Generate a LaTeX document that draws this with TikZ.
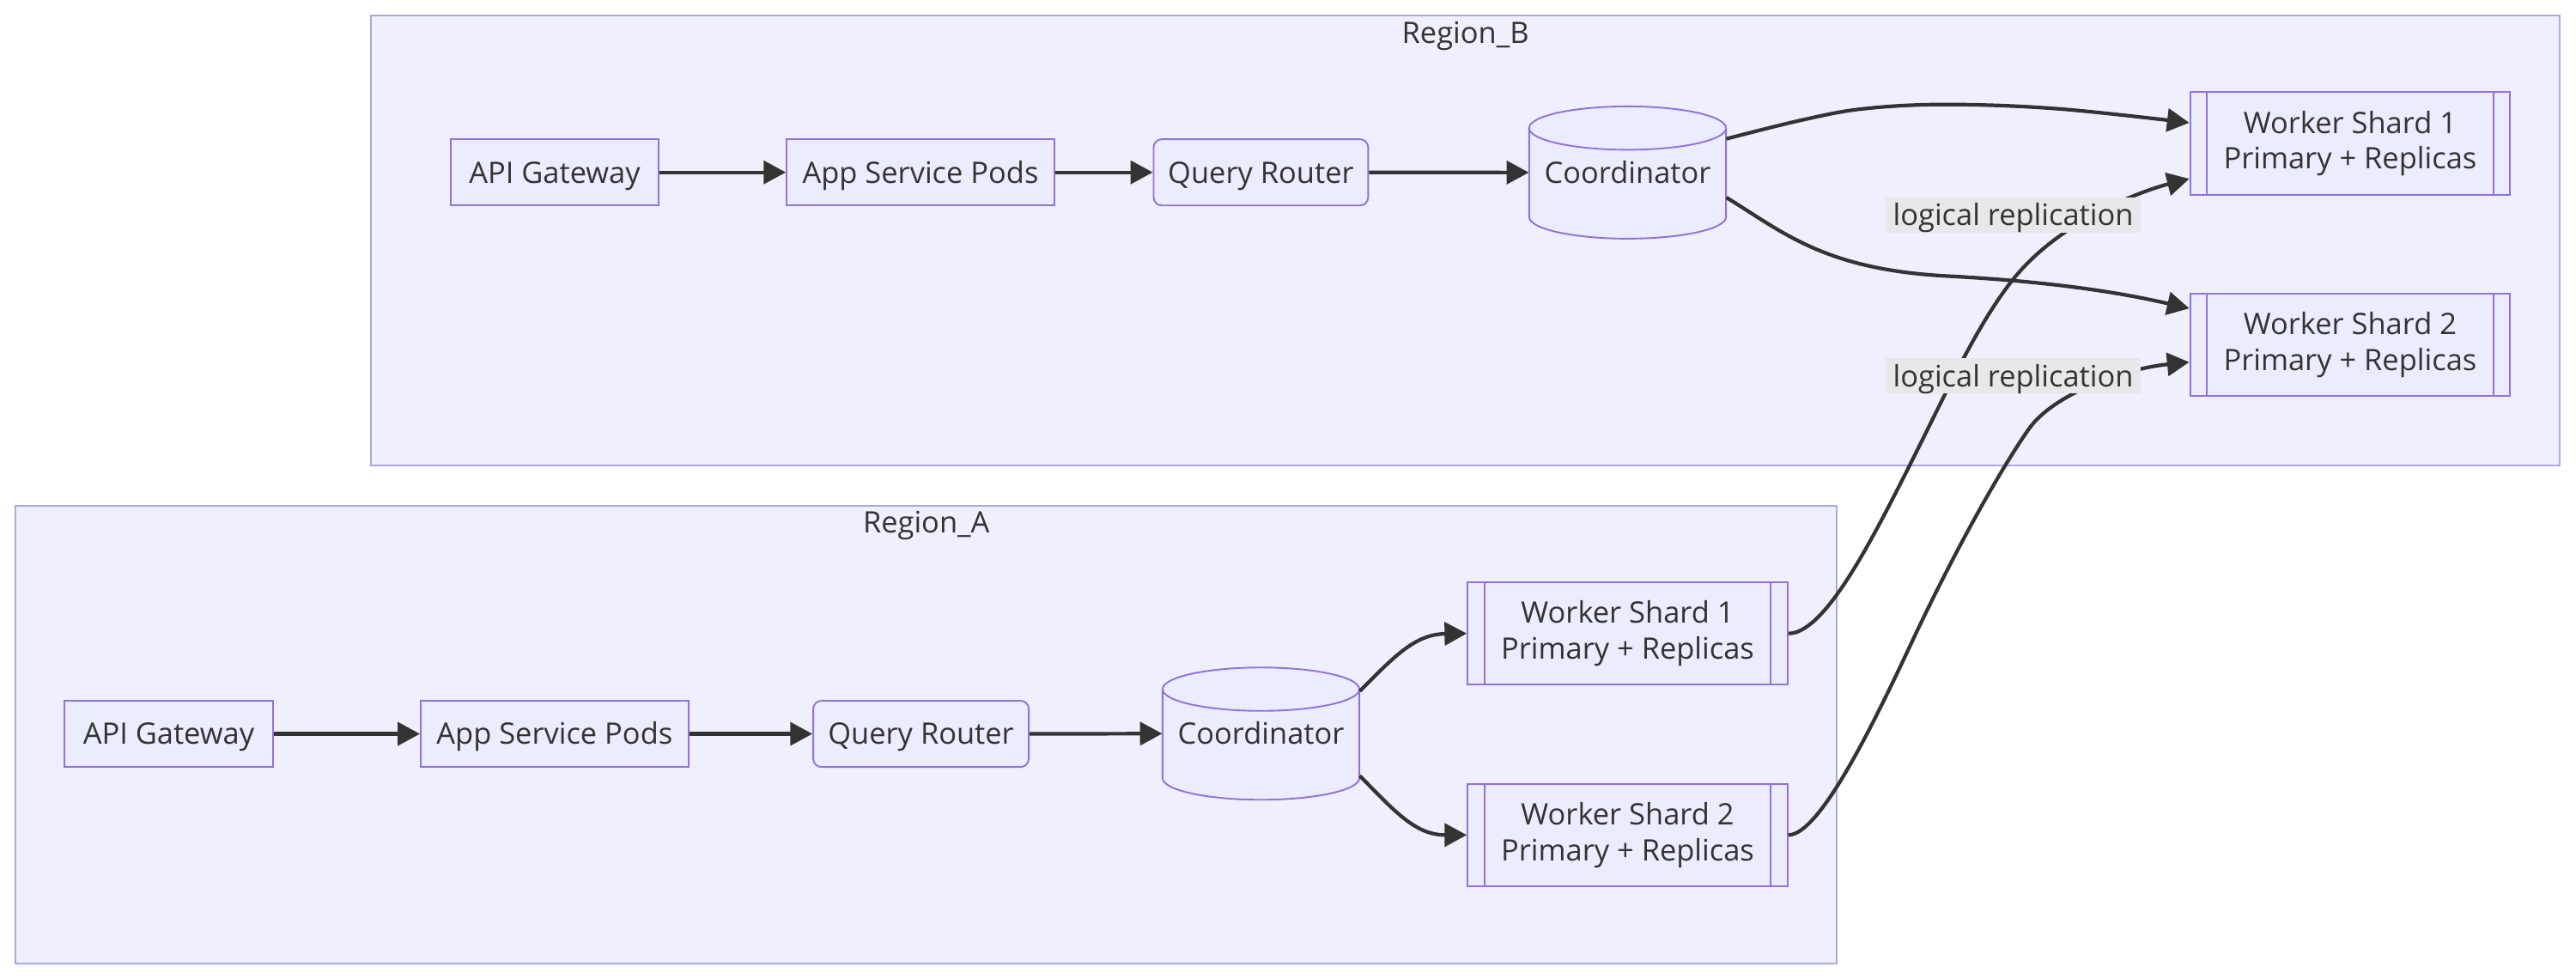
\documentclass[tikz,border=0pt]{standalone}
\usepackage{fontspec}
\setmainfont{Open Sans}
\usetikzlibrary{arrows.meta,calc}
\definecolor{regfill}{RGB}{239,239,253}
\definecolor{regline}{RGB}{170,168,222}
\definecolor{nodefill}{RGB}{236,236,255}
\definecolor{nodeline}{RGB}{147,112,219}
\definecolor{ink}{RGB}{51,51,51}
\definecolor{lblbg}{RGB}{232,232,234}
\newcommand\dbcylinder[1]{%
  \draw[draw=nodeline, fill=nodefill, line width=1pt]
    ($(#1)+(-59.9,27.05)$) -- ($(#1)+(-59.9,-27.05)$)
    arc[start angle=180, end angle=360, x radius=59.9pt, y radius=13.2pt]
    -- ($(#1)+(59.9,27.05)$)
    arc[start angle=0, end angle=180, x radius=59.9pt, y radius=13.2pt] -- cycle;
  \draw[draw=nodeline, line width=1pt] ($(#1)+(-59.9,27.05)$)
    arc[start angle=180, end angle=360, x radius=59.9pt, y radius=13.2pt];}
\begin{document}
\begin{tikzpicture}[x=1pt,y=1pt,
  txt/.style={text=ink, font=\fontsize{18}{21.8}\selectfont},
  region/.style={draw=regline, fill=regfill, line width=1pt},
  regtitle/.style={txt, inner sep=0pt},
  box/.style={txt, draw=nodeline, fill=nodefill, line width=1pt, inner sep=0pt,
    minimum height=40.3pt, text height=14.6pt, text depth=1.7pt},
  rbox/.style={box, rounded corners=5pt},
  cyl/.style={txt, inner sep=0pt, minimum width=119.8pt, minimum height=80.5pt,
    text height=14.6pt, text depth=1.7pt},
  shard/.style={txt, draw=nodeline, fill=nodefill, line width=1pt, inner sep=0pt,
    minimum width=194.8pt, minimum height=62.4pt, align=center,
    path picture={\draw[nodeline, line width=1pt]
      ([xshift=10.3pt]path picture bounding box.north west) -- ([xshift=10.3pt]path picture bounding box.south west)
      ([xshift=-10.3pt]path picture bounding box.north east) -- ([xshift=-10.3pt]path picture bounding box.south east);}},
  flow/.style={draw=ink, line width=2.2pt, -{Triangle[length=13.5pt,width=14pt]}},
  lbl/.style={txt, fill=lblbg, inner sep=0pt, minimum width=155pt, minimum height=21.4pt,
    text height=14.6pt, text depth=1.7pt}
]
\useasboundingbox (0,0) rectangle (1568,-595.84);
\fill[white] (0,0) rectangle (1568,-595.84);

% regions
\draw[region] (225.9,-9.6) rectangle (1558,-283.4);
\node[regtitle] (tB) at (892,-21.8) {Region\_B};
\draw[region] (9.5,-307.8) rectangle (1118.1,-586.2);
\node[regtitle] (tA) at (563.8,-319.7) {Region\_A};

% Region B nodes
\node[box, minimum width=126.5pt] (aGB) at (337.65,-104.9) {API Gateway};
\node[box, minimum width=163pt] (sGB) at (560.3,-104.9) {App Service Pods};
\node[rbox, minimum width=130.6pt] (qRB) at (767.5,-104.9) {Query Router};
\coordinate (cBc) at (990.7,-105);
\dbcylinder{cBc}
\node[cyl] (cB) at (cBc) {Coordinator};
\node[shard] (w1B) at (1430.5,-87.3) {Worker Shard 1\\Primary + Replicas};
\node[shard] (w2B) at (1430.5,-209.9) {Worker Shard 2\\Primary + Replicas};

% Region A nodes
\node[box, minimum width=126.6pt] (aGA) at (102.7,-446.65) {API Gateway};
\node[box, minimum width=162.9pt] (sGA) at (337.55,-446.65) {App Service Pods};
\node[rbox, minimum width=131.2pt] (qRA) at (560.6,-446.65) {Query Router};
\coordinate (cAc) at (767.55,-446.5);
\dbcylinder{cAc}
\node[cyl] (cA) at (cAc) {Coordinator};
\node[shard] (w1A) at (990.7,-385.55) {Worker Shard 1\\Primary + Replicas};
\node[shard] (w2A) at (990.7,-508.2) {Worker Shard 2\\Primary + Replicas};

% connection points
\coordinate (cBo1) at ($(cB.east)+(0,20.5)$);
\coordinate (cBo2) at ($(cB.east)+(0,-15.2)$);
\coordinate (cAo1) at ($(cA.east)+(0,25.8)$);
\coordinate (cAo2) at ($(cA.east)+(0,-25.6)$);
\coordinate (w1Bi1) at ($(w1B.west)+(0,12.6)$);
\coordinate (w1Bi2) at ($(w1B.west)+(0,-21.5)$);
\coordinate (w2Bi1) at ($(w2B.west)+(0,22.2)$);
\coordinate (w2Bi2) at ($(w2B.west)+(0,-10.5)$);

% Region B edges
\draw[flow] (aGB.east) -- (sGB.west);
\draw[flow] (sGB.east) -- (qRB.west);
\draw[flow] (qRB.east) -- (cB.west);
\draw[flow] plot[smooth, tension=0.6] coordinates {(cBo1) (1096.2,-73.2) (1134.3,-66.2) (1184.8,-63.6) (1252.5,-66.2) (w1Bi1)};
\draw[flow] (cBo2) .. controls (1085,-141) and (1110,-164) .. (1185,-168)
   .. controls (1250,-171.5) and (1290,-178) .. (w2Bi1);

% Region A edges
\draw[flow] (aGA.east) -- (sGA.west);
\draw[flow] (sGA.east) -- (qRA.west);
\draw[flow] (qRA.east) -- (cA.west);
\draw[flow] (cAo1) .. controls (850,-398) and (862,-386) .. (w1A.west);
\draw[flow] (cAo2) .. controls (850,-495) and (862,-508.2) .. (w2A.west);

% replication edges
\draw[flow] (w1A.east) .. controls (1110,-385.55) and (1137,-333.5) .. (1162,-284)
  .. controls (1184,-240.4) and (1202.8,-198.6) .. (1224.8,-170.7)
  .. controls (1254.8,-132.6) and (1308,-115) .. (w1Bi2);
\draw[flow] (w2A.east) .. controls (1108,-508.2) and (1141.8,-437.5) .. (1163.8,-390.6)
  .. controls (1188.8,-337.35) and (1217,-286.6) .. (1235,-261)
  .. controls (1250,-239.7) and (1293,-224.4) .. (w2Bi2);

% edge labels
\node[lbl] (l1) at (1225.4,-130.9) {logical replication};
\node[lbl] (l2) at (1225.4,-228.8) {logical replication};
\end{tikzpicture}
\end{document}
